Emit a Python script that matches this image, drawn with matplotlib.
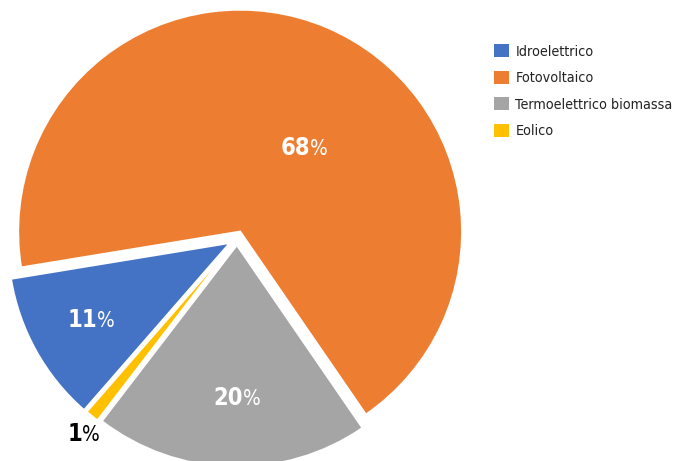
import numpy as np
import matplotlib
matplotlib.use("Agg")
import matplotlib.pyplot as plt
from matplotlib.patches import Patch
from matplotlib import font_manager

# data, in legend order (also clockwise order of the slices)
labels = ["Idroelettrico", "Fotovoltaico", "Termoelettrico biomassa", "Eolico"]
shares = [11, 68, 20, 1]
colors = ["#4472C4", "#ED7D31", "#A5A5A5", "#FFC000"]

# narrow font if one is around
fl = font_manager.fontManager.ttflist
names = set(f.name for f in fl)
stretch = 'normal'
if 'Liberation Sans Narrow' in names:
    fam = 'Liberation Sans Narrow'
elif any(f.name == 'DejaVu Sans' and f.stretch == 'condensed' for f in fl):
    fam, stretch = 'DejaVu Sans', 'condensed'
else:
    fam = 'Liberation Sans'
plt.rcParams['font.family'] = [fam, 'DejaVu Sans']
plt.rcParams['font.stretch'] = stretch

W, H = 677, 461
fig = plt.figure(figsize=(W / 100, H / 100), dpi=100)
ax = fig.add_axes([0, 0, 1, 1])

R = 222
explode = [8, 8, 6, 7]   # pie uses data units here (1 unit = 1 px)
wedges, _ = ax.pie(shares, colors=colors, explode=explode, startangle=228.9,
                   counterclock=False, radius=R, center=(237, H - 239),
                   wedgeprops=dict(edgecolor='white', linewidth=1.5))
ax.set_xlim(0, W)
ax.set_ylim(0, H)
ax.set_aspect('equal')
ax.axis('off')

# label anchor (angle in deg, distance / radius) from each wedge's own centre
place = [(209.7, 0.69), (50.5, 0.496), (272.3, 0.685), (231.4, 1.086)]
txtcol = ['white', 'white', 'white', 'black']
nfs = 17
for w, v, (ang, d), tc in zip(wedges, shares, place, txtcol):
    cx, cy = w.center
    x = cx + d * R * np.cos(np.radians(ang))
    y = cy + d * R * np.sin(np.radians(ang)) - 0.36 * nfs * 100 / 72
    ax.text(x, y, str(v), ha='right', va='baseline', color=tc,
            fontsize=nfs, fontweight='bold')
    ax.text(x, y, '%', ha='left', va='baseline', color=tc,
            fontsize=15, fontweight='light')

handles = [Patch(facecolor=c, edgecolor='none') for c in colors]
leg = fig.legend(handles, labels, loc='upper left',
                 bbox_to_anchor=(494 / W, 1 - 44 / H), frameon=False,
                 fontsize=10.3, handlelength=1.05, handleheight=1.05,
                 handletextpad=0.45, labelspacing=0.84, borderaxespad=0,
                 borderpad=0)
for t in leg.get_texts():
    t.set_color('#222222')

fig.savefig('out.png', dpi=100)
